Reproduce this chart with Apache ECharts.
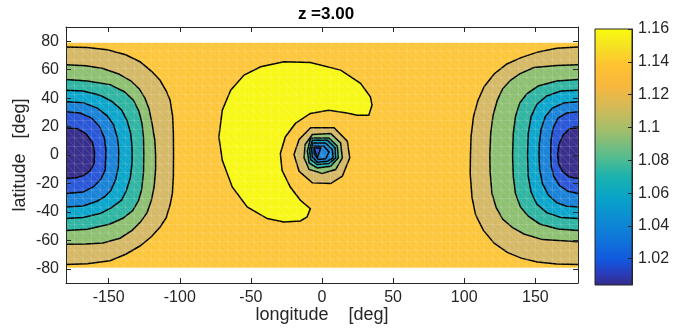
<!DOCTYPE html>
<html>
<head>
<meta charset="utf-8">
<script src="https://cdn.jsdelivr.net/npm/echarts/dist/echarts.min.js"></script>
<style>
  html, body { margin: 0; padding: 0; background: #fff; }
  #chart { width: 674px; height: 328px; }
</style>
</head>
<body>
<div id="chart"></div>
<script>
// tick labels
const lonTicks = [-150, -100, -50, 0, 50, 100, 150];
const latTicks = [-80, -60, -40, -20, 0, 20, 40, 60, 80];
const cbarTicks = [1.02, 1.04, 1.06, 1.08, 1.1, 1.12, 1.14, 1.16];
const cbarRange = [1.004, 1.16];

// data region of the field
const fieldBox = [[-180, 79], [180, 79], [180, -79.3], [-180, -79.3]];

// contour lines, [lon, lat], outer -> inner
const leftContours = [
  [[-180,76],[-165,75.5],[-151,74],[-138,70.5],[-128,65.6],[-120,59],[-114,52.7],[-109.5,45],[-106.8,38.6],[-105,27],[-104.5,15],[-104.4,0],
   [-104.5,-15],[-105.2,-27],[-106.8,-35],[-109.5,-44],[-113.8,-50.6],[-120,-57.5],[-128,-64],[-138,-69.8],[-149,-74.4],[-165,-76.5],[-180,-77]],
  [[-180,63.5],[-166,62.8],[-154,60.8],[-143,57],[-134.5,52.2],[-128.5,46.5],[-124.5,40],[-121.5,32],[-119.5,22],[-117.5,10],[-117,0],
   [-117,-10],[-118,-22],[-120,-32],[-123,-40.5],[-127.5,-47],[-133.5,-53],[-142,-58.5],[-154,-61.8],[-166,-62.6],[-180,-62.8]],
  [[-180,53],[-165,52],[-149,49.5],[-139,44.5],[-132.6,38.6],[-128.8,31],[-126.5,22],[-125.5,12],[-125.3,0],
   [-125.5,-12],[-126.7,-24],[-129,-32],[-133,-39],[-140,-44.5],[-149,-48.5],[-165,-52.2],[-180,-53]],
  [[-180,45.6],[-168,45],[-156,42],[-147.5,37.5],[-141,31.8],[-137,24],[-134.5,15],[-133.6,6],[-133.5,0],
   [-133.6,-6],[-134.8,-16],[-137.5,-25],[-141,-31.8],[-148,-37],[-156,-41.2],[-168,-44],[-180,-44.7]],
  [[-180,37.4],[-168,36.8],[-158,33],[-151,27.5],[-146.5,21],[-143.8,12],[-143,4],[-143,0],
   [-143.2,-8.4],[-145,-17],[-148.5,-25],[-153,-29.5],[-158.2,-32.5],[-168,-35.8],[-180,-36.5]],
  [[-180,30.4],[-170,29.5],[-162,26],[-156.5,20],[-153,12],[-152,4],[-152,0],
   [-152.5,-10.7],[-155.5,-17],[-160.8,-22.5],[-168,-26],[-180,-27.1]],
  [[-180,19],[-172,18.5],[-166,15],[-161.5,9],[-160,3],[-160,0],
   [-160.2,-6],[-163,-11],[-167.6,-14.5],[-173,-16],[-180,-16.5]]
];
const rightContours = [
  [[180,76],[165,75],[152,72.5],[140,68.5],[130,64],[121,57],[114,48],[109.5,38],[106.5,26.8],[104.8,13],[104.4,0],
   [104.2,-13],[105.5,-30],[108,-42],[113.5,-53],[121,-62],[130.3,-68.5],[140,-72.5],[151.4,-75.3],[165,-76.6],[180,-77]],
  [[180,63.5],[165,63],[149,61.5],[139,57],[132.7,52.7],[127,46.5],[123.3,38.6],[120.3,28],[118.6,15],[118,0],
   [118.2,-12],[119.5,-27],[122.5,-37],[127,-45],[134,-51],[142,-55.5],[155,-59.5],[180,-61]],
  [[180,53],[165,52],[152,48.5],[144,43],[139,36.5],[136,27],[134.5,15],[134,0],
   [134.5,-15],[136,-27],[139.5,-36.5],[145,-43],[153,-48.5],[166,-52],[180,-53]],
  [[180,45.6],[168,45],[158,41.5],[151,35.5],[147,27],[145,15],[144.5,0],
   [145,-15],[147,-26],[151,-34.5],[158,-40.5],[168,-44],[180,-44.7]],
  [[180,37.4],[170,36.5],[162,33],[157,27],[154,18],[152.8,8],[152.6,0],
   [153,-10],[155,-20],[159,-28],[165,-33.5],[172,-36],[180,-36.5]],
  [[180,30.4],[172,29.5],[166,26],[162.5,19],[161,10],[160.8,0],
   [161.2,-8],[163,-15],[167,-21.5],[173,-25.5],[180,-27]],
  [[180,19],[174,18.5],[169.5,14],[166.5,7],[165.7,0],
   [166.3,-6],[169,-11.5],[174,-15.5],[180,-16.5]]
];
const crescent = [
  [-26.8,65.6],[-8.2,65.1],[13.1,59.7],[27.1,50.4],[34,40.9],[35.2,35.1],[32.9,28],[24.7,28],[17.6,29.6],[4.7,31.5],
  [-8.2,29.2],[-18.7,22.2],[-25.8,12.7],[-29.3,1],[-28.1,-10.7],[-22.3,-22.5],[-15.2,-31.8],[-8.2,-37.7],[-10.5,-43.6],
  [-15.2,-46.4],[-26.8,-47.1],[-38.5,-44.7],[-52.6,-36.5],[-63.1,-22.5],[-70.1,-3.7],[-72.5,12.7],[-70.1,31.5],
  [-64.2,45.6],[-54.8,56.2],[-43.1,62]
];
const vortexRings = [
  [[-8,19.1],[8.5,19.1],[17.8,9.7],[19.5,-2],[14.3,-14.9],[6.1,-20.1],[-6.8,-19.6],[-16.1,-11.4],[-19.7,0.3],[-16.1,10.9]],
  [[-6.8,14.4],[6.1,15.1],[13.1,8.5],[14.3,-2],[9.6,-10.2],[0.2,-13],[-9.1,-10.2],[-12.6,-2],[-11.9,7.4]],
  [[-8,12],[4.9,12],[10.8,6.2],[11.5,-2],[6.1,-7.9],[-3.3,-9.1],[-9.1,-5.6],[-10.3,2.7]],
  [[-6.8,10.4],[3.8,10.4],[9.2,5],[9.6,-2],[4.9,-6],[-3.3,-6.7],[-8,-3.2],[-8.7,3.9]],
  [[-6.3,8.5],[2.6,8.5],[7.3,3.9],[7.8,-2],[3.8,-4.4],[-3.3,-5.1],[-6.8,-1.3],[-7.3,4.3]],
  [[-5.6,6.2],[1.4,6.2],[4.9,2],[2.6,-2.7],[-2.6,-3.2],[-5.6,0.4]],
  [[-5.6,5],[-0.9,5],[-3.3,-2]]
];

// band colours, outer -> inner
const bandColors = ['#d5b967', '#8ec072', '#30b5a2', '#0ca6cc', '#1a83d8', '#2a57d8', '#382f8c'];
const vortexColors = ['#d5b967', '#8ec072', '#30b5a2', '#0ca6cc', '#1a83d8', '#1a83d8', '#2a57d8'];
const bgColor = '#fdc63b';
const crescentColor = '#f8f816';

const parulaStops = [
  [0.00, '#352a87'], [0.05, '#283ebe'], [0.10, '#1258de'], [0.18, '#0f76da'],
  [0.26, '#0c8cd2'], [0.34, '#08a3c8'], [0.42, '#19b2b0'], [0.50, '#55bc8e'],
  [0.60, '#a0be6c'], [0.70, '#d7ba56'], [0.78, '#f8b83c'], [0.86, '#fec332'],
  [0.93, '#f6e123'], [1.00, '#f9fb0e']
];

// faint triangle mesh left by the renderer: cell size in degrees
const meshLonStep = 6;
const meshLatRows = 26;

const shapes = [{ pts: fieldBox, fill: bgColor, stroke: null }];
leftContours.forEach((c, i) => shapes.push({ pts: c, fill: bandColors[i], stroke: 'open' }));
rightContours.forEach((c, i) => shapes.push({ pts: c, fill: bandColors[i], stroke: 'open' }));
shapes.push({ pts: crescent, fill: crescentColor, stroke: 'closed' });
vortexRings.forEach((c, i) => shapes.push({ pts: c, fill: vortexColors[i], stroke: 'closed' }));

// mesh segments [lon1, lat1, lon2, lat2]
const latTop = fieldBox[0][1], latBot = fieldBox[2][1];
const latStep = (latTop - latBot) / meshLatRows;
const meshSegs = [];
for (let lon = -180; lon <= 180; lon += meshLonStep) meshSegs.push([lon, latTop, lon, latBot]);
for (let j = 0; j <= meshLatRows; j++) meshSegs.push([-180, latTop - j * latStep, 180, latTop - j * latStep]);
for (let lon = -180; lon < 180; lon += meshLonStep) {
  for (let j = 0; j < meshLatRows; j++) {
    meshSegs.push([lon, latTop - j * latStep, lon + meshLonStep, latTop - (j + 1) * latStep]);
  }
}

const axisColor = '#262626';
const font = 'Liberation Sans, Arial, Helvetica, sans-serif';

const chart = echarts.init(document.getElementById('chart'), null, { renderer: 'canvas' });

const tickStyle = (len) => ({ show: true, inside: true, length: len, lineStyle: { color: axisColor, width: 1 } });
const lineStyle = { onZero: false, lineStyle: { color: axisColor, width: 1 } };

chart.setOption({
  animation: false,
  title: {
    text: 'z =3.00', left: 321, top: 1, textAlign: 'center',
    textStyle: { fontFamily: font, fontSize: 17, fontWeight: 'bold', color: '#000' }
  },
  grid: [
    { left: 66, top: 27, width: 512, height: 256, outerBoundsMode: 'none' },
    { left: 595, top: 29, width: 37, height: 256, outerBoundsMode: 'none' }
  ],
  xAxis: [
    {
      gridIndex: 0, type: 'value', min: -180, max: 180, position: 'bottom', z: 10,
      name: 'longitude    [deg]', nameLocation: 'middle', nameGap: 23, nameMoveOverlap: false,
      nameTextStyle: { fontFamily: font, fontSize: 18, color: axisColor },
      axisLine: lineStyle,
      axisTick: Object.assign(tickStyle(5), { customValues: lonTicks }),
      axisLabel: { customValues: lonTicks, fontFamily: font, fontSize: 16, color: axisColor, margin: 7 },
      splitLine: { show: false }
    },
    {
      gridIndex: 0, type: 'value', min: -180, max: 180, position: 'top', z: 10,
      axisLine: lineStyle,
      axisTick: Object.assign(tickStyle(5), { customValues: lonTicks }),
      axisLabel: { show: false },
      splitLine: { show: false }
    },
    { gridIndex: 1, type: 'value', min: 0, max: 1, show: false }
  ],
  yAxis: [
    {
      gridIndex: 0, type: 'value', min: -90, max: 90, position: 'left', z: 10,
      name: 'latitude   [deg]', nameLocation: 'middle', nameGap: 37, nameMoveOverlap: false,
      nameTextStyle: { fontFamily: font, fontSize: 18, color: axisColor },
      axisLine: lineStyle,
      axisTick: Object.assign(tickStyle(5), { customValues: latTicks }),
      axisLabel: { customValues: latTicks, fontFamily: font, fontSize: 16, color: axisColor, margin: 7 },
      splitLine: { show: false }
    },
    {
      gridIndex: 0, type: 'value', min: -90, max: 90, position: 'right', z: 10,
      axisLine: lineStyle,
      axisTick: Object.assign(tickStyle(5), { customValues: latTicks }),
      axisLabel: { show: false },
      splitLine: { show: false }
    },
    {
      gridIndex: 1, type: 'value', min: cbarRange[0], max: cbarRange[1], position: 'right', z: 10,
      axisLine: lineStyle,
      axisTick: Object.assign(tickStyle(4), { customValues: cbarTicks }),
      axisLabel: { customValues: cbarTicks, fontFamily: font, fontSize: 16, color: axisColor, margin: 6 },
      splitLine: { show: false }
    }
  ],
  series: [
    {
      type: 'custom',
      xAxisIndex: 0, yAxisIndex: 0,
      clip: true,
      z: 2,
      data: shapes.map(s => s.pts[0]),
      renderItem(params, api) {
        const s = shapes[params.dataIndex];
        const pts = s.pts.map(p => api.coord(p));
        const children = [{ type: 'polygon', shape: { points: pts }, style: { fill: s.fill } }];
        if (s.stroke === 'open') {
          children.push({ type: 'polyline', shape: { points: pts }, style: { fill: null, stroke: '#000', lineWidth: 1.5 } });
        } else if (s.stroke === 'closed') {
          children.push({ type: 'polygon', shape: { points: pts }, style: { fill: null, stroke: '#000', lineWidth: 1.5 } });
        }
        return { type: 'group', children };
      }
    },
    {
      type: 'custom',
      xAxisIndex: 0, yAxisIndex: 0,
      clip: true,
      silent: true,
      z: 3,
      data: meshSegs,
      renderItem(params, api) {
        const a = api.coord([api.value(0), api.value(1)]);
        const b = api.coord([api.value(2), api.value(3)]);
        return {
          type: 'line',
          shape: { x1: a[0], y1: a[1], x2: b[0], y2: b[1] },
          style: { stroke: 'rgba(255,255,255,0.17)', lineWidth: 0.8 }
        };
      }
    },
    {
      type: 'custom',
      xAxisIndex: 2, yAxisIndex: 2,
      data: [[0, cbarRange[0], 1, cbarRange[1]]],
      renderItem(params, api) {
        const p0 = api.coord([api.value(0), api.value(1)]);
        const p1 = api.coord([api.value(2), api.value(3)]);
        return {
          type: 'rect',
          shape: { x: p0[0], y: p1[1], width: p1[0] - p0[0], height: p0[1] - p1[1] },
          style: {
            fill: {
              type: 'linear', x: 0, y: 1, x2: 0, y2: 0,
              colorStops: parulaStops.map(s => ({ offset: s[0], color: s[1] }))
            },
            stroke: axisColor, lineWidth: 1
          }
        };
      }
    }
  ]
});
</script>
</body>
</html>
